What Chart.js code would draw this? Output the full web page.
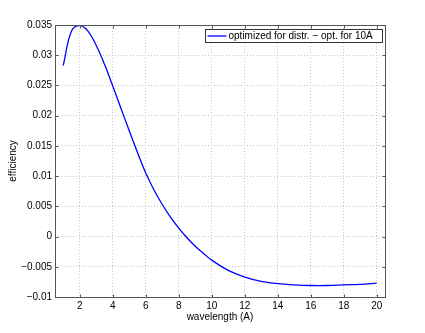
<!DOCTYPE html>
<html>
<head>
<meta charset="utf-8">
<script src="https://cdn.jsdelivr.net/npm/chart.js@4/dist/chart.umd.min.js"></script>
<style>
  html, body { margin: 0; padding: 0; background: #fff; }
  #wrap { width: 425px; height: 333px; }
</style>
</head>
<body>
<div id="wrap"><canvas id="eff-chart"></canvas></div>
<script>
// wavelength (A) and efficiency
const wavelength = [1, 1.5, 2, 2.5, 3, 3.5, 4, 4.5, 5, 5.5, 6, 6.5, 7, 7.5, 8, 8.5, 9, 9.5, 10,
    11, 12, 13, 14, 15, 16, 17, 18, 19, 20];
const efficiency = [0.0283, 0.0340, 0.0349, 0.0340, 0.0316, 0.0285, 0.0249, 0.0212, 0.0175, 0.0139,
    0.0105, 0.0077, 0.0053, 0.0032, 0.0014, -0.0002, -0.0016, -0.0028, -0.0039,
    -0.0056, -0.0067, -0.0074, -0.0078, -0.0080, -0.0081, -0.0081, -0.0080, -0.0079, -0.0077];
const xTicks = [2, 4, 6, 8, 10, 12, 14, 16, 18, 20];
const yTicks = [-0.01, -0.005, 0, 0.005, 0.01, 0.015, 0.02, 0.025, 0.03, 0.035];
const seriesLabel = 'optimized for distr. \u2212 opt. for 10A';

const FONT = 'Liberation Sans, Arial, Helvetica, sans-serif';

// matlab style box, inward ticks, legend inside the axes
const matlabBox = {
    id: 'matlabBox',
    afterDraw(chart) {
        const { ctx, chartArea: a, scales } = chart;
        const L = Math.round(a.left) + 0.5, R = Math.round(a.right) + 0.5;
        const T = Math.round(a.top) + 0.5, B = Math.round(a.bottom) + 0.5;
        ctx.save();
        ctx.strokeStyle = '#555';
        ctx.lineWidth = 1;
        ctx.strokeRect(L, T, R - L, B - T);
        ctx.beginPath();
        xTicks.forEach(v => {
            const x = Math.round(scales.x.getPixelForValue(v)) + 0.5;
            ctx.moveTo(x, B); ctx.lineTo(x, B - 3);
            ctx.moveTo(x, T); ctx.lineTo(x, T + 3);
        });
        yTicks.forEach(v => {
            const y = Math.round(scales.y.getPixelForValue(v)) + 0.5;
            ctx.moveTo(L, y); ctx.lineTo(L + 3, y);
            ctx.moveTo(R, y); ctx.lineTo(R - 3, y);
        });
        ctx.stroke();

        // legend
        const bx = 205.5, by = 29.5, bw = 177, bh = 13;
        ctx.fillStyle = '#fff';
        ctx.fillRect(bx, by, bw, bh);
        ctx.strokeStyle = '#333';
        ctx.strokeRect(bx, by, bw, bh);
        ctx.strokeStyle = '#0000ff';
        ctx.lineWidth = 1.3;
        ctx.beginPath();
        ctx.moveTo(bx + 2, by + bh / 2);
        ctx.lineTo(bx + 21, by + bh / 2);
        ctx.stroke();
        ctx.fillStyle = '#000';
        ctx.font = '10px ' + FONT;
        ctx.textBaseline = 'middle';
        ctx.textAlign = 'left';
        ctx.fillText(seriesLabel, bx + 23, by + bh / 2 + 0.5);
        ctx.restore();
    }
};

function fmt(v) {
    const s = String(Number(v.toFixed(4)));
    return s.replace('-', '\u2212');
}

const ctx = document.getElementById('eff-chart');
new Chart(ctx, {
    type: 'line',
    data: {
        datasets: [{
            label: seriesLabel,
            data: wavelength.map((w, i) => ({ x: w, y: efficiency[i] })),
            borderColor: '#0000ff',
            borderWidth: 1.3,
            pointRadius: 0,
            fill: false,
            tension: 0.4
        }]
    },
    options: {
        responsive: true,
        maintainAspectRatio: false,
        animation: false,
        layout: { padding: { left: 0, top: 25, right: 40, bottom: 0 } },
        plugins: {
            legend: { display: false },
            tooltip: { enabled: false }
        },
        scales: {
            x: {
                type: 'linear',
                min: 0.5,
                max: 20.5,
                afterBuildTicks: s => { s.ticks = xTicks.map(v => ({ value: v })); },
                afterFit: s => { s.height = 36; },
                grid: { color: '#c4c4c4', lineWidth: 1, drawTicks: false },
                border: { display: false, dash: [1, 2] },
                ticks: { color: '#000', font: { family: FONT, size: 10 }, padding: 3, maxRotation: 0 },
                title: { display: true, text: 'wavelength (A)', color: '#000', font: { family: FONT, size: 10 }, padding: { top: 0, bottom: 10 } }
            },
            y: {
                min: -0.01,
                max: 0.035,
                afterBuildTicks: s => { s.ticks = yTicks.map(v => ({ value: v })); },
                afterFit: s => { s.width = 55; },
                grid: { color: '#c4c4c4', lineWidth: 1, drawTicks: false },
                border: { display: false, dash: [1, 2] },
                ticks: { color: '#000', font: { family: FONT, size: 10 }, padding: 3, callback: v => fmt(v) },
                title: { display: true, text: 'efficiency', color: '#000', font: { family: FONT, size: 10 }, padding: { top: 7, bottom: 0 } }
            }
        }
    },
    plugins: [matlabBox]
});
</script>
</body>
</html>
